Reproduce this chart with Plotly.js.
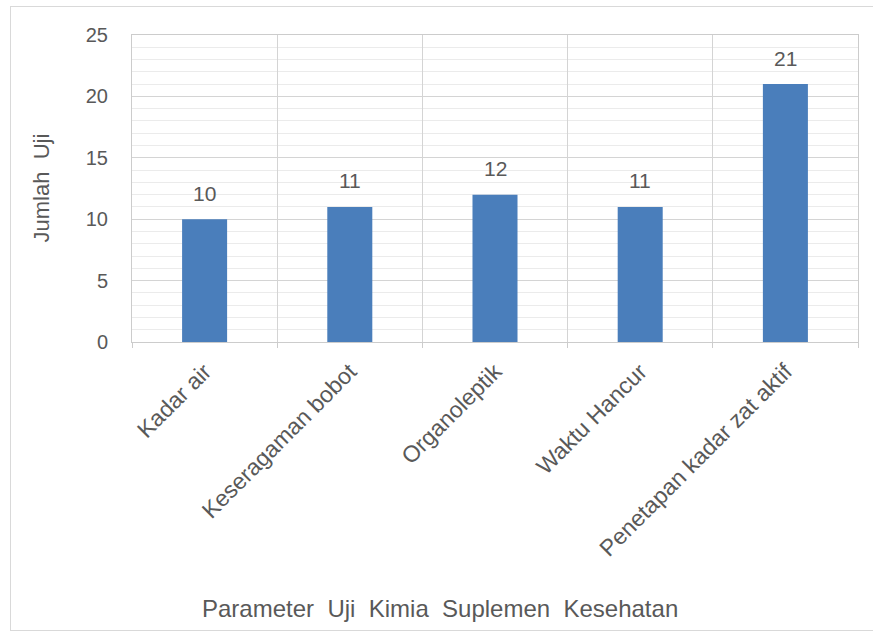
<!DOCTYPE html>
<html>
<head>
<meta charset="utf-8">
<script src="https://cdn.plot.ly/plotly-3.0.1.min.js"></script>
<style>
  html, body { margin: 0; padding: 0; background: #ffffff; }
  #wrap { position: relative; width: 873px; height: 635px; overflow: hidden; }
  #frame { position: absolute; left: 10px; top: 6px; width: 880px; height: 625px; border: 1px solid #d9d9d9; box-sizing: border-box; pointer-events: none; }
  #chart { position: absolute; left: 0; top: 0; width: 873px; height: 635px; }
</style>
</head>
<body>
<div id="wrap">
  <div id="chart"></div>
  <div id="frame"></div>
</div>
<script>
// ---- data ----
const categories = ["Kadar air", "Keseragaman bobot", "Organoleptik", "Waktu Hancur", "Penetapan kadar zat aktif"];
const values = [10, 11, 12, 11, 21];
const yTickValues = [0, 5, 10, 15, 20, 25];
const xTitle = "Parameter  Uji  Kimia  Suplemen  Kesehatan";
const yTitle = "Jumlah  Uji";

const textColor = "#595959";
const font = "Liberation Sans, Arial, sans-serif";

const trace = {
  type: "bar",
  x: categories,
  y: values,
  marker: { color: "#4a7ebb" },
  hoverinfo: "none"
};

const labelAnnotations = categories.map((c, i) => ({
  x: c, y: values[i], xref: "x", yref: "y",
  text: String(values[i]), showarrow: false,
  yanchor: "middle", yshift: 26,
  font: { family: font, size: 21, color: textColor }
}));

const layout = {
  width: 873, height: 635,
  margin: { l: 132, r: 15, t: 35, b: 293 },
  paper_bgcolor: "rgba(0,0,0,0)",
  plot_bgcolor: "#ffffff",
  bargap: 0.69,
  showlegend: false,
  font: { family: font, color: textColor },
  xaxis: {
    type: "category",
    tickson: "boundaries",
    showgrid: true, gridcolor: "#d4d4d4", gridwidth: 1,
    showline: true, linecolor: "#cccccc", linewidth: 1, mirror: true,
    ticks: "outside", ticklen: 5, tickcolor: "#cccccc",
    tickangle: -45,
    ticklabelstandoff: 6,
    tickfont: { family: font, size: 23, color: textColor },
    fixedrange: true
  },
  yaxis: {
    range: [0, 25],
    tickvals: yTickValues,
    showgrid: true, gridcolor: "#d4d4d4", gridwidth: 1,
    minor: { dtick: 1, showgrid: true, gridcolor: "#ebebeb", gridwidth: 1 },
    zeroline: false,
    showline: true, linecolor: "#cccccc", linewidth: 1, mirror: true,
    ticks: "",
    ticklabelstandoff: 19,
    tickfont: { family: font, size: 20, color: textColor },
    fixedrange: true
  },
  annotations: labelAnnotations.concat([
    {
      xref: "paper", yref: "paper", x: (440 - 132) / 726, y: (342 - 608) / 307,
      text: xTitle, showarrow: false, xanchor: "center", yanchor: "middle",
      font: { family: font, size: 24, color: textColor }
    },
    {
      xref: "paper", yref: "paper", x: (41 - 132) / 726, y: 0.5,
      text: yTitle, showarrow: false, xanchor: "center", yanchor: "middle",
      textangle: -90,
      font: { family: font, size: 22, color: textColor }
    }
  ])
};

Plotly.newPlot("chart", [trace], layout, { displayModeBar: false, staticPlot: true });
</script>
</body>
</html>
